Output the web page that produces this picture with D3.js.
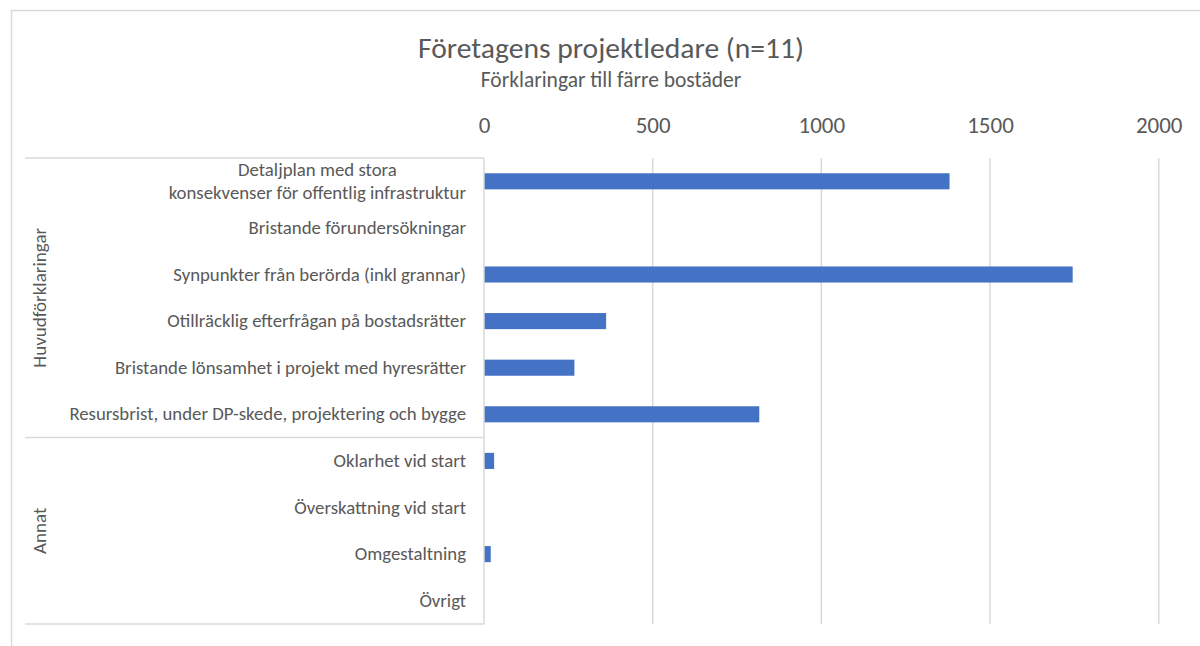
<!DOCTYPE html>
<html>
<head>
<meta charset="utf-8">
<script src="https://cdn.jsdelivr.net/npm/d3@7"></script>
<style>
  html, body { margin: 0; padding: 0; background: #fff; }
  svg text { font-family: Calibri, Carlito, "Open Sans", sans-serif; fill: #595959; }
  .axis .domain { display: none; }
  .axis line { stroke: none; }
</style>
</head>
<body>
<svg id="chart" width="1200" height="646"></svg>
<script>
// Chart data
const titleText = 'Företagens projektledare (n=11)';
const subtitleText = 'Förklaringar till färre bostäder';
const groups = ['Huvudförklaringar', 'Annat'];
const categories = [
  'Detaljplan med stora|konsekvenser för offentlig infrastruktur',
  'Bristande förundersökningar',
  'Synpunkter från berörda (inkl grannar)',
  'Otillräcklig efterfrågan på bostadsrätter',
  'Bristande lönsamhet i projekt med hyresrätter',
  'Resursbrist, under DP-skede, projektering och bygge',
  'Oklarhet vid start',
  'Överskattning vid start',
  'Omgestaltning',
  'Övrigt'
];
const categoryGroup = [
  'Huvudförklaringar', 'Huvudförklaringar', 'Huvudförklaringar',
  'Huvudförklaringar', 'Huvudförklaringar', 'Huvudförklaringar',
  'Annat', 'Annat', 'Annat', 'Annat'
];
const values = [1380, 0, 1745, 362, 268, 816, 30, 0, 20, 0];
const xTicks = [0, 500, 1000, 1500, 2000];

const PLOT = { left: 484, right: 1158.7, top: 158, bottom: 624 };
const GROUP_LEFT = 25;
const BAR_COLOR = '#4472C4';
const GRID_COLOR = '#d9d9d9';
const FONT = 'Calibri, Carlito, "Open Sans", sans-serif';

const svg = d3.select('#chart');

// Outer chart border
svg.append('rect')
  .attr('x', 11.5).attr('y', 10.5)
  .attr('width', 1210).attr('height', 660)
  .attr('fill', 'none')
  .attr('stroke', GRID_COLOR)
  .attr('stroke-width', 1.5);

// Titles
svg.append('text')
  .attr('x', 611).attr('y', 58)
  .attr('text-anchor', 'middle')
  .style('font-size', '29.6px')
  .style('font-weight', 300)
  .text(titleText);

svg.append('text')
  .attr('x', 611).attr('y', 87)
  .attr('text-anchor', 'middle')
  .style('font-size', '21.5px')
  .text(subtitleText);

const x = d3.scaleLinear().domain([0, 2000]).range([PLOT.left, PLOT.right]);
const y = d3.scaleBand()
  .domain(categories)
  .range([PLOT.top, PLOT.bottom])
  .paddingInner(0.655)
  .paddingOuter(0.3275);

// Vertical gridlines
svg.append('g')
  .selectAll('line')
  .data(xTicks.filter(d => d > 0))
  .join('line')
  .attr('x1', d => x(d)).attr('x2', d => x(d))
  .attr('y1', PLOT.top).attr('y2', PLOT.bottom)
  .attr('stroke', GRID_COLOR)
  .attr('stroke-width', 1.5);

// Top value axis labels
svg.append('g')
  .attr('class', 'axis')
  .attr('transform', `translate(0,${PLOT.top - 25})`)
  .call(d3.axisTop(x).tickValues(xTicks).tickSize(0).tickPadding(0).tickFormat(d3.format('d')))
  .selectAll('text')
  .attr('dy', 0)
  .style('font-size', '23px')
  .style('font-family', FONT);

// Bars
svg.append('g')
  .selectAll('rect')
  .data(categories.map((c, i) => ({ c, v: values[i] })))
  .join('rect')
  .attr('x', x(0))
  .attr('y', d => y(d.c))
  .attr('width', d => x(d.v) - x(0))
  .attr('height', y.bandwidth())
  .attr('fill', BAR_COLOR);

// Category axis line
svg.append('line')
  .attr('x1', PLOT.left).attr('x2', PLOT.left)
  .attr('y1', PLOT.top).attr('y2', PLOT.bottom)
  .attr('stroke', GRID_COLOR)
  .attr('stroke-width', 1.5);

// Category labels (multi-line split at |)
const catAxis = svg.append('g')
  .attr('class', 'axis')
  .attr('transform', `translate(${PLOT.left},0)`)
  .call(d3.axisLeft(y).tickSize(0).tickPadding(18).tickFormat(d => d.replace('|', ' ')));

catAxis.selectAll('text')
  .style('font-size', '18.8px')
  .style('font-family', FONT)
  .each(function (d) {
    const parts = d.split('|');
    if (parts.length < 2) return;
    const t = d3.select(this);
    const xPos = +t.attr('x');
    const lineH = 22.7;
    t.text(null).attr('dy', null);
    parts.forEach((p, i) => {
      t.append('tspan')
        .attr('x', xPos)
        .attr('dy', i === 0 ? `${-(parts.length - 1) * lineH / 2 + 6}px` : `${lineH}px`)
        .text(p);
    });
    // keep lines centred on each other, block flush right
    const maxW = d3.max(t.selectAll('tspan').nodes(), n => n.getComputedTextLength());
    t.attr('text-anchor', 'middle');
    t.selectAll('tspan').attr('x', xPos - maxW / 2);
  });

// Group separators and labels
const groupRanges = groups.map(g => {
  const cats = categories.filter((c, i) => categoryGroup[i] === g);
  const top = y(cats[0]) - y.step() * y.paddingOuter();
  const bottom = y(cats[cats.length - 1]) + y.bandwidth() + y.step() * y.paddingOuter();
  return { g, top, bottom };
});

const sepYs = [PLOT.top].concat(groupRanges.map(r => r.bottom));
svg.append('g')
  .selectAll('line')
  .data(sepYs)
  .join('line')
  .attr('x1', GROUP_LEFT).attr('x2', PLOT.left)
  .attr('y1', d => d).attr('y2', d => d)
  .attr('stroke', GRID_COLOR)
  .attr('stroke-width', 1.5);

svg.append('g')
  .selectAll('text')
  .data(groupRanges)
  .join('text')
  .attr('transform', d => `translate(46,${(d.top + d.bottom) / 2}) rotate(-90)`)
  .attr('text-anchor', 'middle')
  .style('font-size', '19px')
  .text(d => d.g);
</script>
</body>
</html>
